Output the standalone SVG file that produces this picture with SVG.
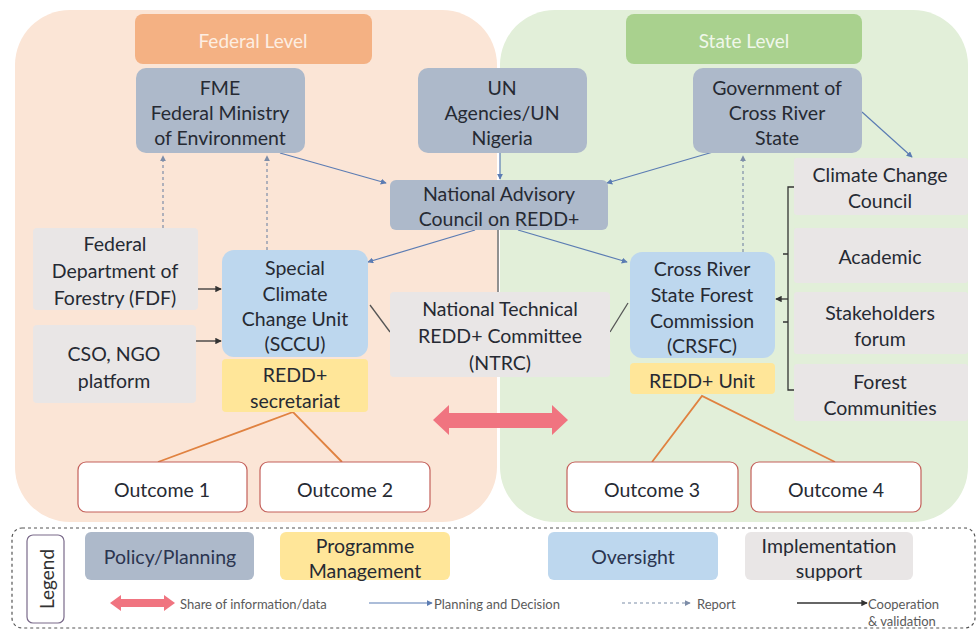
<svg xmlns="http://www.w3.org/2000/svg" width="977" height="631" viewBox="0 0 977 631">
<defs>
<style>
text{font-family:Lato,"Open Sans","Liberation Sans",sans-serif;text-anchor:middle;dominant-baseline:central}
.t{font-size:19.5px;fill:#262a33}
.pol{fill:#adb9ca}
.ovs{fill:#bdd7ee}
.prg{fill:#ffe699}
.imp{fill:#e9e6e6}
.out{fill:#fff;stroke:#c4605a;stroke-width:1.2}
.plan{stroke:#5b7cb3;stroke-width:1.2;fill:none}
.rep{stroke:#7d8da8;stroke-width:1.2;stroke-dasharray:3 3;fill:none}
.coop{stroke:#333;stroke-width:1.3;fill:none}
.org{stroke:#e08240;stroke-width:1.8;fill:none}
.lg{font-size:13px;fill:#5a5a5a;text-anchor:start}
</style>
<marker id="ap" viewBox="0 0 8 8" refX="7" refY="4" markerWidth="5" markerHeight="5" orient="auto"><path d="M0,0 L8,4 L0,8 z" fill="#5b7cb3"/></marker>
<marker id="ar" viewBox="0 0 8 8" refX="7" refY="4" markerWidth="5" markerHeight="5" orient="auto"><path d="M0,0 L8,4 L0,8 z" fill="#7d8da8"/></marker>
<marker id="ac" viewBox="0 0 8 8" refX="7" refY="4" markerWidth="5" markerHeight="5" orient="auto"><path d="M0,0 L8,4 L0,8 z" fill="#333"/></marker>
</defs>

<g id="panels">
<rect x="15" y="10" width="482" height="512" rx="55" fill="#fbe5d6"/>
<rect x="500" y="10" width="468" height="512" rx="55" fill="#e2efd9"/>
</g>

<g id="federal-level"><rect x="135" y="14" width="237" height="50" rx="8" fill="#f4b183"/><text x="253" y="40" style="font-size:19px;fill:#fdeee2">Federal Level</text></g>
<g id="state-level"><rect x="626" y="14" width="236" height="50" rx="8" fill="#a9d18e"/><text x="744" y="40" style="font-size:19px;fill:#f0f7ea">State Level</text></g>

<g id="connectors">
<line class="plan" x1="280" y1="153" x2="386" y2="183" marker-end="url(#ap)"/>
<line class="plan" x1="500" y1="153" x2="500" y2="179" marker-end="url(#ap)"/>
<line class="plan" x1="713" y1="152" x2="607" y2="183" marker-end="url(#ap)"/>
<line class="plan" x1="862" y1="112" x2="912" y2="157" marker-end="url(#ap)"/>
<line class="plan" x1="475" y1="230" x2="368" y2="262" marker-end="url(#ap)"/>
<line class="plan" x1="518" y1="230" x2="627" y2="262" marker-end="url(#ap)"/>
<line class="coop" x1="498" y1="230" x2="498" y2="292" style="stroke:#555"/>
<line class="coop" x1="370" y1="305" x2="390" y2="332" style="stroke:#555"/>
<line class="coop" x1="628" y1="303" x2="610" y2="332" style="stroke:#555"/>
<line class="rep" x1="163" y1="228" x2="163" y2="156" marker-end="url(#ar)"/>
<line class="rep" x1="267" y1="250" x2="267" y2="156" marker-end="url(#ar)"/>
<line class="rep" x1="743" y1="252" x2="743" y2="156" marker-end="url(#ar)"/>
<line class="coop" x1="195" y1="289" x2="221" y2="289" marker-end="url(#ac)"/>
<line class="coop" x1="195" y1="341" x2="221" y2="341" marker-end="url(#ac)"/>
<path class="coop" d="M795,187 H788 V390 H795 M783,254 H788 M783,322 H788"/>
<line class="coop" x1="788" y1="299" x2="776" y2="299" marker-end="url(#ac)"/>
<polyline class="org" points="158,462 293,412 342,462"/>
<polyline class="org" points="652,462 702,396 835,462"/>
<path d="M433,420 L449,405 L449,413 L552,413 L552,405 L568,420 L552,435 L552,428 L449,428 L449,435 z" fill="#f07480"/>
</g>

<g id="fme"><rect class="pol" x="136" y="68" width="169" height="85" rx="10"/><text class="t" x="220" y="87">FME</text><text class="t" x="220" y="112">Federal Ministry</text><text class="t" x="220" y="137">of Environment</text></g>
<g id="un"><rect class="pol" x="418" y="68" width="169" height="85" rx="10"/><text class="t" x="502" y="87">UN</text><text class="t" x="502" y="112">Agencies/UN</text><text class="t" x="502" y="137">Nigeria</text></g>
<g id="gov-crs"><rect class="pol" x="693" y="68" width="169" height="85" rx="10"/><text class="t" x="777" y="87">Government of</text><text class="t" x="777" y="112">Cross River</text><text class="t" x="777" y="137">State</text></g>
<g id="nac"><rect class="pol" x="390" y="180" width="218" height="50" rx="6"/><text class="t" x="499" y="193">National Advisory</text><text class="t" x="499" y="218">Council on REDD+</text></g>
<g id="fdf"><rect class="imp" x="33" y="228" width="165" height="82" rx="4"/><text class="t" x="115" y="243">Federal</text><text class="t" x="115" y="270">Department of</text><text class="t" x="115" y="297">Forestry (FDF)</text></g>
<g id="cso"><rect class="imp" x="33" y="325" width="163" height="78" rx="4"/><text class="t" x="114" y="353">CSO, NGO</text><text class="t" x="114" y="380">platform</text></g>
<g id="sccu"><rect class="ovs" x="222" y="250" width="146" height="107" rx="12"/><text class="t" x="295" y="267">Special</text><text class="t" x="295" y="293">Climate</text><text class="t" x="295" y="318">Change Unit</text><text class="t" x="295" y="343">(SCCU)</text></g>
<g id="redd-secretariat"><rect class="prg" x="222" y="359" width="146" height="53" rx="4"/><text class="t" x="295" y="374">REDD+</text><text class="t" x="295" y="400">secretariat</text></g>
<g id="ntrc"><rect class="imp" x="390" y="292" width="220" height="85" rx="4"/><text class="t" x="500" y="308">National Technical</text><text class="t" x="500" y="335">REDD+ Committee</text><text class="t" x="500" y="362">(NTRC)</text></g>
<g id="crsfc"><rect class="ovs" x="630" y="252" width="145" height="106" rx="12"/><text class="t" x="702" y="268">Cross River</text><text class="t" x="702" y="294">State Forest</text><text class="t" x="702" y="320">Commission</text><text class="t" x="702" y="345">(CRSFC)</text></g>
<g id="redd-unit"><rect class="prg" x="630" y="363" width="145" height="31" rx="4"/><text class="t" x="702" y="380">REDD+ Unit</text></g>
<g id="ccc"><rect class="imp" x="794" y="158" width="174" height="57" rx="3"/><text class="t" x="880" y="174">Climate Change</text><text class="t" x="880" y="200">Council</text></g>
<g id="academic"><rect class="imp" x="794" y="228" width="174" height="55" rx="3"/><text class="t" x="880" y="256">Academic</text></g>
<g id="stakeholders"><rect class="imp" x="794" y="292" width="174" height="62" rx="3"/><text class="t" x="880" y="312">Stakeholders</text><text class="t" x="880" y="338">forum</text></g>
<g id="forest-communities"><rect class="imp" x="794" y="364" width="174" height="57" rx="3"/><text class="t" x="880" y="381">Forest</text><text class="t" x="880" y="407">Communities</text></g>
<g id="outcome1"><rect class="out" x="78" y="462" width="169" height="50" rx="8"/><text class="t" x="162" y="489">Outcome 1</text></g>
<g id="outcome2"><rect class="out" x="260" y="462" width="170" height="50" rx="8"/><text class="t" x="345" y="489">Outcome 2</text></g>
<g id="outcome3"><rect class="out" x="567" y="462" width="171" height="50" rx="8"/><text class="t" x="652" y="489">Outcome 3</text></g>
<g id="outcome4"><rect class="out" x="751" y="462" width="170" height="50" rx="8"/><text class="t" x="836" y="489">Outcome 4</text></g>

<g id="legend">
<rect x="12" y="528" width="963" height="100" rx="10" fill="none" stroke="#555" stroke-width="1.2" stroke-dasharray="3 3"/>
<rect x="27" y="535" width="37" height="88" rx="6" fill="#fff" stroke="#7a6a8a" stroke-width="1.2"/>
<text transform="translate(46,579) rotate(-90)" style="font-size:19px;fill:#333">Legend</text>
<rect class="pol" x="85" y="532" width="169" height="48" rx="6"/><text class="t" x="170" y="556" style="fill:#2b3550">Policy/Planning</text>
<rect class="prg" x="280" y="532" width="170" height="48" rx="6"/><text class="t" x="365" y="545">Programme</text><text class="t" x="365" y="570">Management</text>
<rect class="ovs" x="548" y="532" width="170" height="48" rx="6"/><text class="t" x="633" y="556" style="fill:#2b3550">Oversight</text>
<rect class="imp" x="745" y="532" width="168" height="48" rx="6"/><text class="t" x="829" y="545">Implementation</text><text class="t" x="829" y="570">support</text>
<path d="M110,603 L121,595 L121,599 L164,599 L164,595 L175,603 L164,611 L164,607 L121,607 L121,611 z" fill="#f07480"/>
<text class="lg" x="180" y="604">Share of information/data</text>
<line class="plan" x1="369" y1="603" x2="432" y2="603" marker-end="url(#ap)"/>
<text class="lg" x="434" y="604">Planning and Decision</text>
<line class="rep" x1="622" y1="603" x2="690" y2="603" marker-end="url(#ar)"/>
<text class="lg" x="697" y="604">Report</text>
<line class="coop" x1="797" y1="603" x2="867" y2="603" marker-end="url(#ac)"/>
<text class="lg" x="868" y="604">Cooperation</text>
<text class="lg" x="868" y="621">&amp; validation</text>
</g>
</svg>
